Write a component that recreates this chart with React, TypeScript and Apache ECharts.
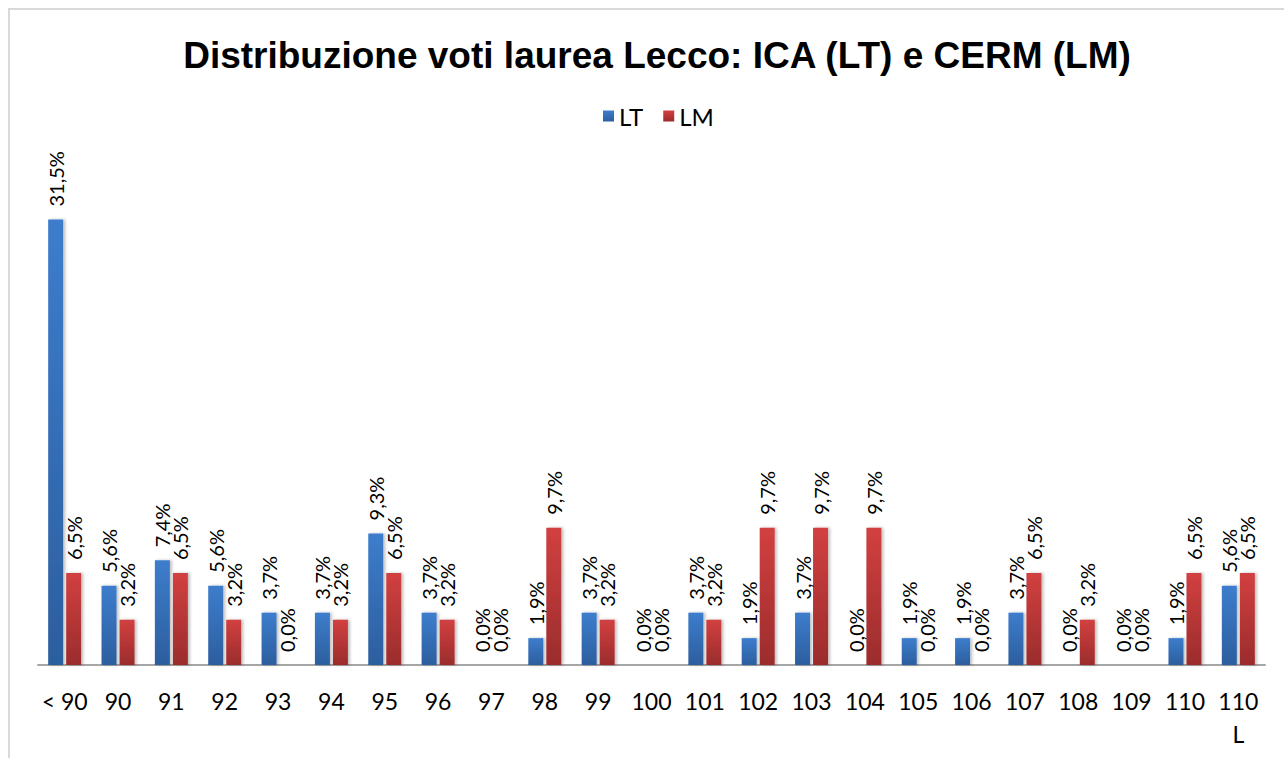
import React, { useEffect, useRef } from "react";
import * as echarts from "echarts";

const categories = ["< 90", "90", "91", "92", "93", "94", "95", "96", "97", "98", "99", "100", "101", "102", "103", "104", "105", "106", "107", "108", "109", "110", "110\nL"];
const ltValues = [31.5, 5.6, 7.4, 5.6, 3.7, 3.7, 9.3, 3.7, 0.0, 1.9, 3.7, 0.0, 3.7, 1.9, 3.7, 0.0, 1.9, 1.9, 3.7, 0.0, 0.0, 1.9, 5.6];
const lmValues = [6.5, 3.2, 6.5, 3.2, 0.0, 3.2, 6.5, 3.2, 0.0, 9.7, 3.2, 0.0, 3.2, 9.7, 9.7, 9.7, 0.0, 0.0, 6.5, 3.2, 0.0, 6.5, 6.5];

const FONT = "Lato, 'Open Sans', sans-serif";

function grad(top: string, bottom: string) {
  return new echarts.graphic.LinearGradient(0, 0, 0, 1, [
    { offset: 0, color: top },
    { offset: 1, color: bottom },
  ]);
}

const fmt = (p: any) => Number(p.value).toFixed(1).replace(".", ",") + "%";

export default function App() {
  const ref = useRef<HTMLDivElement>(null);
  useEffect(() => {
    if (!ref.current) return;
    const chart = echarts.init(ref.current, null, { renderer: "svg" });
    const labelCfg = {
      show: true,
      position: "top",
      rotate: 90,
      align: "left",
      verticalAlign: "middle",
      distance: 13,
      fontSize: 20,
      fontFamily: FONT,
      color: "#000",
      formatter: fmt,
    };
    chart.setOption({
      animation: false,
      backgroundColor: "#fff",
      graphic: [
        {
          type: "rect",
          shape: { x: 9, y: 9, width: 1300, height: 800 },
          style: { fill: "none", stroke: "#d9d9d9", lineWidth: 2 },
          silent: true,
        },
      ],
      title: {
        text: "Distribuzione voti laurea Lecco: ICA (LT) e CERM (LM)",
        left: 652,
        textAlign: "center",
        top: 32,
        textStyle: {
          fontFamily: "'Liberation Sans', Arial, sans-serif",
          fontWeight: "bold",
          fontSize: 37,
          color: "#000",
        },
      },
      legend: {
        top: 99,
        left: 598,
        itemWidth: 11,
        itemHeight: 11,
        itemGap: 20,
        icon: "rect",
        textStyle: { fontFamily: FONT, fontSize: 24, color: "#000" },
        data: ["LT", "LM"],
      },
      grid: { left: 38, right: 19, top: 170, bottom: 93, containLabel: false },
      xAxis: {
        type: "category",
        data: categories,
        axisLine: { lineStyle: { color: "#a6a6a6", width: 2 } },
        axisTick: { show: false },
        axisLabel: {
          interval: 0,
          margin: 19,
          fontFamily: FONT,
          fontSize: 23,
          color: "#000",
          lineHeight: 33,
        },
      },
      yAxis: {
        type: "value",
        min: 0,
        max: 35,
        show: false,
        splitLine: { show: false },
      },
      series: [
        {
          name: "LT",
          type: "bar",
          data: ltValues,
          barWidth: 15,
          barGap: "20%",
          itemStyle: {
            color: grad("#3d7dcc", "#2c5e9e"),
            shadowColor: "rgba(0,0,0,0.25)",
            shadowBlur: 3,
            shadowOffsetX: 2,
          },
          label: labelCfg,
        },
        {
          name: "LM",
          type: "bar",
          data: lmValues,
          barWidth: 15,
          itemStyle: {
            color: grad("#d24040", "#9b2c2c"),
            shadowColor: "rgba(0,0,0,0.25)",
            shadowBlur: 3,
            shadowOffsetX: 2,
          },
          label: labelCfg,
        },
      ],
    });
    return () => chart.dispose();
  }, []);
  return (
    <div
      ref={ref}
      style={{ position: "fixed", left: 0, top: 0, width: 1284, height: 758 }}
    />
  );
}
